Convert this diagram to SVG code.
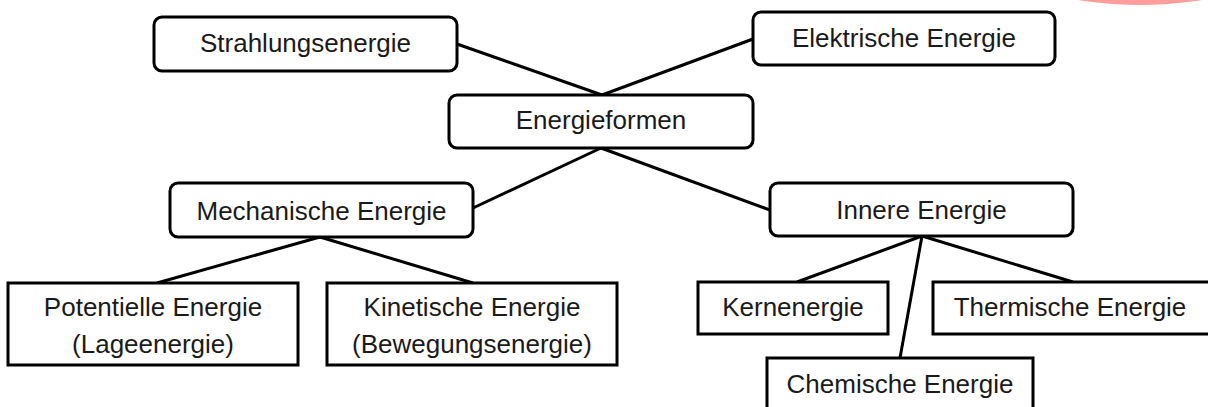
<svg xmlns="http://www.w3.org/2000/svg" width="1208" height="407" viewBox="0 0 1208 407">
<style>
.box{fill:#fff;stroke:#000;stroke-width:3}
.t{font-family:"Liberation Sans",Arial,sans-serif;font-size:26px;fill:#1a1a1a;text-anchor:middle}
.c{stroke:#000;stroke-width:3;fill:none}
</style>
<rect width="1208" height="407" fill="#fff"/>
<ellipse cx="1140" cy="-43.5" rx="140" ry="48.5" fill="#ff9c9c"/>
<g id="connectors">
<line class="c" x1="457" y1="44" x2="602" y2="95"/>
<line class="c" x1="753" y1="39" x2="602" y2="95"/>
<line class="c" x1="601" y1="148" x2="473" y2="208"/>
<line class="c" x1="601" y1="148" x2="770" y2="210"/>
<line class="c" x1="320" y1="237" x2="157" y2="283"/>
<line class="c" x1="320" y1="237" x2="473" y2="283"/>
<line class="c" x1="922" y1="236" x2="797" y2="282"/>
<line class="c" x1="922" y1="236" x2="1073" y2="282"/>
<line class="c" x1="922" y1="236" x2="900" y2="358"/>
</g>
<g id="strahlung"><rect class="box" x="154" y="17" width="303" height="54" rx="8"/><text class="t" x="305.5" y="52">Strahlungsenergie</text></g>
<g id="elektrisch"><rect class="box" x="753" y="12" width="302" height="53" rx="8"/><text class="t" x="904" y="47">Elektrische Energie</text></g>
<g id="energieformen"><rect class="box" x="449" y="95" width="304" height="53" rx="8"/><text class="t" x="601" y="129">Energieformen</text></g>
<g id="mechanisch"><rect class="box" x="170" y="183" width="303" height="54" rx="8"/><text class="t" x="321.5" y="220">Mechanische Energie</text></g>
<g id="innere"><rect class="box" x="770" y="183" width="303" height="53" rx="8"/><text class="t" x="921.5" y="219">Innere Energie</text></g>
<g id="potentiell"><rect class="box" x="8" y="283" width="290" height="82"/><text class="t" x="153" y="316">Potentielle Energie</text><text class="t" x="153" y="353">(Lageenergie)</text></g>
<g id="kinetisch"><rect class="box" x="327" y="283" width="290" height="82"/><text class="t" x="472" y="316">Kinetische Energie</text><text class="t" x="472" y="353">(Bewegungsenergie)</text></g>
<g id="kern"><rect class="box" x="698" y="282" width="190" height="52"/><text class="t" x="793" y="316">Kernenergie</text></g>
<g id="thermisch"><rect class="box" x="933" y="282" width="290" height="52"/><text class="t" x="1070" y="316">Thermische Energie</text></g>
<g id="chemisch"><rect class="box" x="767" y="358" width="266" height="60"/><text class="t" x="900" y="393">Chemische Energie</text></g>
</svg>
